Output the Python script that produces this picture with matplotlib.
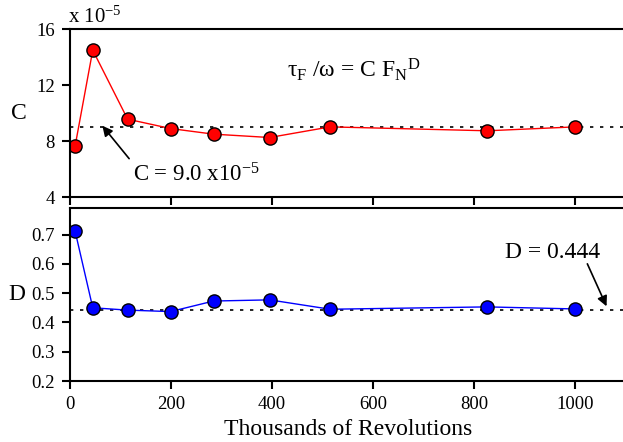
import matplotlib
matplotlib.use('Agg')
import matplotlib.pyplot as plt

plt.rcParams['font.family'] = ['Liberation Serif', 'DejaVu Serif']
plt.rcParams['mathtext.fontset'] = 'custom'
plt.rcParams['mathtext.rm'] = 'Liberation Serif'
plt.rcParams['mathtext.it'] = 'Liberation Serif:italic'

# datos
revs = [10, 45, 114, 199, 284, 395, 515, 826, 1000]
c_vals = [7.64, 14.5, 9.57, 8.9, 8.5, 8.26, 9.02, 8.74, 9.02]
d_vals = [0.712, 0.45, 0.442, 0.437, 0.473, 0.477, 0.445, 0.453, 0.446]
c_mean = 9.0
d_mean = 0.444

fig = plt.figure(figsize=(6.23, 4.42), dpi=100)
ax1 = fig.add_axes([0.1124, 0.554, 0.892, 0.380])
ax2 = fig.add_axes([0.1124, 0.138, 0.892, 0.391])

for ax in (ax1, ax2):
    ax.spines['right'].set_visible(False)
    for s in ('left', 'top', 'bottom'):
        ax.spines[s].set_linewidth(1.5)
    ax.tick_params(direction='out', length=6, width=1.5, labelsize=13.5, pad=5, right=False, top=False)
    ax.set_xlim(0, 1100)
    ax.set_xticks([0, 200, 400, 600, 800, 1000])

# panel C
ax1.axhline(c_mean, color='black', linestyle=(0, (2, 4)), linewidth=1.2)
ax1.plot(revs, c_vals, '-o', color='red', linewidth=1, markersize=9.5,
         markerfacecolor='red', markeredgecolor='black', markeredgewidth=1)
ax1.set_ylim(4, 16)
ax1.set_yticks([4, 8, 12, 16])
ax1.set_xticklabels([])
ax1.set_ylabel('C', fontsize=17, rotation=0, labelpad=12, va='center')
ax1.text(-0.003, 1.01, r'x 10$^{\mathrm{-5}}$', transform=ax1.transAxes, fontsize=15, ha='left', va='bottom')
ax1.text(430, 13.1, r'τ$_\mathrm{F}$ /ω = C F$_\mathrm{N}$$^\mathrm{D}$', fontsize=17, ha='left', va='center')
ax1.text(125, 5.6, r'C = 9.0 x10$^{\mathrm{-5}}$', fontsize=16.5, ha='left', va='center')
ax1.annotate('', xy=(64, 9.1), xytext=(117, 6.75),
             arrowprops=dict(arrowstyle='-|>', color='black', lw=1.2, shrinkA=0, shrinkB=0,
                             mutation_scale=15))

# panel D
ax2.axhline(d_mean, color='black', linestyle=(0, (2, 4)), linewidth=1.2)
ax2.plot(revs, d_vals, '-o', color='blue', linewidth=1, markersize=9.5,
         markerfacecolor='blue', markeredgecolor='black', markeredgewidth=1)
ax2.set_ylim(0.2, 0.79)
ax2.set_yticks([0.2, 0.3, 0.4, 0.5, 0.6, 0.7])
ax2.set_ylabel('D', fontsize=17, rotation=0, labelpad=10, va='center')
ax2.set_xlabel('Thousands of Revolutions', fontsize=17, labelpad=4)
ax2.text(956, 0.64, 'D = 0.444', fontsize=17, ha='center', va='center')
ax2.annotate('', xy=(1062, 0.455), xytext=(1024, 0.6),
             arrowprops=dict(arrowstyle='-|>', color='black', lw=1.2, shrinkA=0, shrinkB=0,
                             mutation_scale=15))

plt.savefig('out.png', dpi=100)
